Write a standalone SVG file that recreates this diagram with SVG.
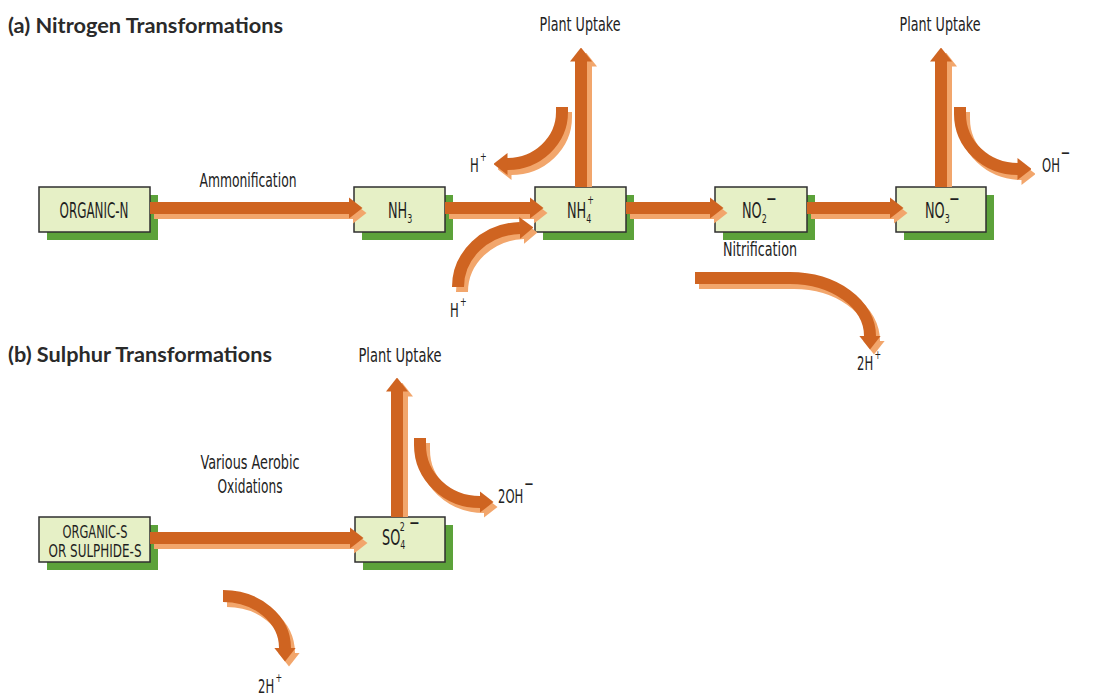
<svg xmlns="http://www.w3.org/2000/svg" width="1111" height="698" viewBox="0 0 1111 698">
<style>
.bg{fill:#ffffff}
.box{fill:#E6F0C6;stroke:#2f2f2f;stroke-width:1.5}
.bsh{fill:#5CA23A}
.fg{fill:none;stroke:#CF6421;stroke-width:12;marker-end:url(#hd)}
.sh{fill:none;stroke:#F2A66C;stroke-width:12;marker-end:url(#hl)}
.t{font-family:'DejaVu Sans Condensed','Liberation Sans Narrow','Liberation Sans',sans-serif;font-size:19px;fill:#222222}
.bt{font-family:'DejaVu Sans Condensed','Liberation Sans Narrow','Liberation Sans',sans-serif;font-size:21px;fill:#1e1e1e}
.bt2{font-family:'DejaVu Sans Condensed','Liberation Sans Narrow','Liberation Sans',sans-serif;font-size:18px;fill:#1e1e1e}
.ttl{font-family:Lato,'Open Sans','Liberation Sans',sans-serif;font-weight:bold;font-size:20px;fill:#2a2a2a}
.s{font-size:13px}
</style>
<defs>
<marker id="hd" markerUnits="userSpaceOnUse" markerWidth="14" markerHeight="22" viewBox="0 0 14 22" refX="0.5" refY="11" orient="auto"><path d="M0,0 L14,11 L0,22 Z" fill="#CF6421"/></marker>
<marker id="hl" markerUnits="userSpaceOnUse" markerWidth="14" markerHeight="22" viewBox="0 0 14 22" refX="0.5" refY="11" orient="auto"><path d="M0,0 L14,11 L0,22 Z" fill="#F2A66C"/></marker>
</defs>
<rect class="bg" x="0" y="0" width="1111" height="698"/>

<text class="ttl" x="8" y="33" textLength="275" lengthAdjust="spacingAndGlyphs">(a) Nitrogen Transformations</text>
<text class="ttl" x="8" y="362" textLength="264" lengthAdjust="spacingAndGlyphs">(b) Sulphur Transformations</text>

<g id="n-organic-n">
<rect class="bsh" x="47" y="195" width="111" height="45"/>
<rect class="box" x="39" y="187" width="111" height="45"/>
<text class="bt" x="94" y="218" text-anchor="middle" textLength="69" lengthAdjust="spacingAndGlyphs">ORGANIC-N</text>
</g>
<g id="n-nh3">
<rect class="bsh" x="362" y="195" width="91" height="45"/>
<rect class="box" x="354" y="187" width="91" height="45"/>
<text class="bt" transform="translate(388,218) scale(0.68,1)">NH<tspan class="s" dy="5">3</tspan></text>
</g>
<g id="n-nh4">
<rect class="bsh" x="543" y="195" width="91" height="45"/>
<rect class="box" x="535" y="187" width="91" height="45"/>
<text class="bt" transform="translate(567,218) scale(0.68,1)">NH<tspan class="s" dy="5">4</tspan><tspan class="s" dx="-6" dy="-19">+</tspan></text>
</g>
<g id="n-no2">
<rect class="bsh" x="723" y="195" width="92" height="45"/>
<rect class="box" x="715" y="187" width="92" height="45"/>
<text class="bt" transform="translate(742,218) scale(0.68,1)">NO<tspan class="s" dy="5">2</tspan><tspan dx="-1" dy="-17">−</tspan></text>
</g>
<g id="n-no3">
<rect class="bsh" x="904" y="195" width="90" height="45"/>
<rect class="box" x="896" y="187" width="90" height="45"/>
<text class="bt" transform="translate(925,218) scale(0.68,1)">NO<tspan class="s" dy="5">3</tspan><tspan dx="-1" dy="-17">−</tspan></text>
</g>
<g id="n-organic-s">
<rect class="bsh" x="47" y="525" width="111" height="45"/>
<rect class="box" x="39" y="517" width="111" height="45"/>
<text class="bt2" x="95" y="538" text-anchor="middle" textLength="65" lengthAdjust="spacingAndGlyphs">ORGANIC-S</text>
<text class="bt2" x="95" y="557" text-anchor="middle" textLength="93" lengthAdjust="spacingAndGlyphs">OR SULPHIDE-S</text>
</g>
<g id="n-so4">
<rect class="bsh" x="363" y="525" width="90" height="45"/>
<rect class="box" x="355" y="517" width="90" height="45"/>
<text class="bt" transform="translate(382,545) scale(0.68,1)">SO<tspan class="s" dy="4">4</tspan><tspan class="s" dx="-8" dy="-18">2</tspan><tspan dx="6" dy="-1">−</tspan></text>
</g>

<g id="connectors">
<g transform="translate(4,5)">
<path class="sh" d="M150,208 H349"/>
<path class="sh" d="M445,208 H530"/>
<path class="sh" d="M626,208 H710"/>
<path class="sh" d="M807,208 H890"/>
<path class="sh" d="M562,107 V112 A55,52 0 0 1 507,164"/>
<path class="sh" d="M458,287 A64,59 0 0 1 520,228"/>
<path class="sh" d="M960,107 V114 A58,55 0 0 0 1018,169"/>
<path class="sh" d="M695,278 H790 A80,58 0 0 1 870,336"/>
<path class="sh" d="M150,538 H350"/>
<path class="sh" d="M420,438 V445 A60,57 0 0 0 480,502"/>
<path class="sh" d="M223,596 A62,52 0 0 1 285,648"/>
</g>
<path class="sh" d="M586,187 V66"/>
<path class="sh" d="M946,187 V66"/>
<path class="sh" d="M402,517 V396"/>

<path class="fg" d="M150,208 H349"/>
<path class="fg" d="M445,208 H530"/>
<path class="fg" d="M626,208 H710"/>
<path class="fg" d="M807,208 H890"/>
<path class="fg" d="M581,187 V61"/>
<path class="fg" d="M941,187 V61"/>
<path class="fg" d="M562,107 V112 A55,52 0 0 1 507,164"/>
<path class="fg" d="M458,287 A64,59 0 0 1 520,228"/>
<path class="fg" d="M960,107 V114 A58,55 0 0 0 1018,169"/>
<path class="fg" d="M695,278 H790 A80,58 0 0 1 870,336"/>
<path class="fg" d="M150,538 H350"/>
<path class="fg" d="M397,517 V391"/>
<path class="fg" d="M420,438 V445 A60,57 0 0 0 480,502"/>
<path class="fg" d="M223,596 A62,52 0 0 1 285,648"/>
</g>

<g id="labels">
<text class="t" x="248" y="187" text-anchor="middle" textLength="97" lengthAdjust="spacingAndGlyphs">Ammonification</text>
<text class="t" x="580" y="31" text-anchor="middle" textLength="81" lengthAdjust="spacingAndGlyphs">Plant Uptake</text>
<text class="t" x="940" y="31" text-anchor="middle" textLength="81" lengthAdjust="spacingAndGlyphs">Plant Uptake</text>
<text class="t" x="760" y="256" text-anchor="middle" textLength="74" lengthAdjust="spacingAndGlyphs">Nitrification</text>
<text class="t" transform="translate(470,172) scale(0.68,1)">H<tspan class="s" dx="2" dy="-11">+</tspan></text>
<text class="t" transform="translate(450,317) scale(0.68,1)">H<tspan class="s" dx="2" dy="-11">+</tspan></text>
<text class="t" transform="translate(1042,172) scale(0.68,1)">OH<tspan dx="1" dy="-13">−</tspan></text>
<text class="t" transform="translate(857,370) scale(0.68,1)">2H<tspan class="s" dx="2" dy="-11">+</tspan></text>
<text class="t" x="400" y="362" text-anchor="middle" textLength="83" lengthAdjust="spacingAndGlyphs">Plant Uptake</text>
<text class="t" x="250" y="469" text-anchor="middle" textLength="99" lengthAdjust="spacingAndGlyphs">Various Aerobic</text>
<text class="t" x="250" y="493" text-anchor="middle" textLength="65" lengthAdjust="spacingAndGlyphs">Oxidations</text>
<text class="t" transform="translate(498,503) scale(0.68,1)">2OH<tspan dx="1" dy="-13">−</tspan></text>
<text class="t" transform="translate(258,693) scale(0.68,1)">2H<tspan class="s" dx="2" dy="-11">+</tspan></text>
</g>
</svg>
